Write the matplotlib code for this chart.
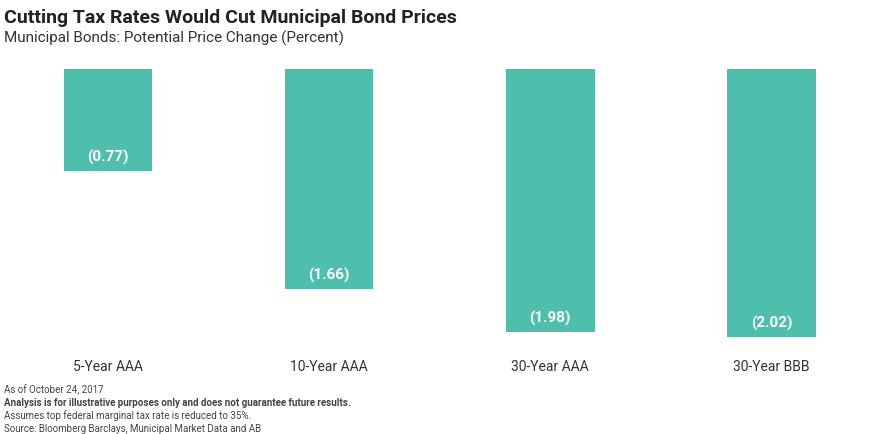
import matplotlib.pyplot as plt

categories = ['5-Year AAA', '10-Year AAA', '30-Year AAA', '30-Year BBB']
price_change = [-0.77, -1.66, -1.98, -2.02]
value_labels = ['(0.77)', '(1.66)', '(1.98)', '(2.02)']

plt.rcParams['font.family'] = ['Roboto', 'DejaVu Sans']

fig = plt.figure(figsize=(8.8, 4.35), dpi=100)
ax = fig.add_axes([0.0097, 0.198, 0.98, 0.641])

x = range(len(categories))
ax.bar(x, price_change, width=0.4, color='#4fbfad')
for i, (v, lab) in enumerate(zip(price_change, value_labels)):
    ax.text(i, v + 0.11, lab, ha='center', va='center', color='white',
            fontsize=11, fontweight='bold')

ax.set_xlim(-0.45, 3.45)
ax.set_ylim(-2.1, 0)
ax.set_xticks(list(x))
ax.set_xticklabels(categories, fontsize=10, color='#333333')
ax.tick_params(axis='x', length=0, pad=8)
ax.set_yticks([])
for s in ax.spines.values():
    s.set_visible(False)

fig.text(0.005, 0.958, 'Cutting Tax Rates Would Cut Municipal Bond Prices',
         fontsize=14, fontweight='bold', color='#222222', va='center')
fig.text(0.005, 0.912, 'Municipal Bonds: Potential Price Change (Percent)',
         fontsize=11, color='#333333', va='center')

notes = [('As of October 24, 2017', 'normal'),
         ('Analysis is for illustrative purposes only and does not guarantee future results.', 'bold'),
         ('Assumes top federal marginal tax rate is reduced to 35%.', 'normal'),
         ('Source: Bloomberg Barclays, Municipal Market Data and AB', 'normal')]
for k, (t, w) in enumerate(notes):
    fig.text(0.005, (435 - 390 - 13 * k) / 435, t, fontsize=7, fontweight=w,
             color='#444444', va='center')

fig.savefig('out.png', dpi=100)
